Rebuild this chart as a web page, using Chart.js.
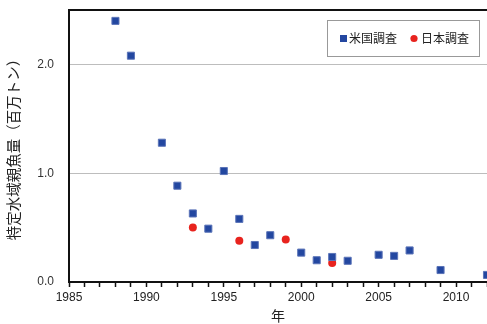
<!DOCTYPE html>
<html>
<head>
<meta charset="utf-8">
<script src="https://cdn.jsdelivr.net/npm/chart.js@4/dist/chart.umd.min.js"></script>
<style>
  html, body { margin: 0; padding: 0; background: #fff; overflow: hidden; }
  canvas { display: block; }
</style>
</head>
<body>
<canvas id="chart" width="487" height="324"></canvas>
<script>
// 米国調査 (US survey)
const usYears = [1988, 1989, 1991, 1992, 1993, 1994, 1995, 1996, 1997, 1998, 2000, 2001, 2002, 2003, 2005, 2006, 2007, 2009, 2012];
const usValues = [2.40, 2.08, 1.28, 0.885, 0.63, 0.49, 1.02, 0.58, 0.34, 0.43, 0.27, 0.20, 0.23, 0.195, 0.25, 0.24, 0.29, 0.11, 0.065];
// 日本調査 (Japan survey)
const jpYears = [1993, 1996, 1999, 2002];
const jpValues = [0.50, 0.38, 0.39, 0.175];
const yTicks = [0, 1, 2];

const jpFont = '"Noto Sans CJK JP", "Noto Sans", sans-serif';
const numFont = '"Liberation Sans", Arial, sans-serif';

// plot frame top line + legend box inside the plot area
const framePlugin = {
  id: 'frame',
  afterDraw(chart) {
    const ctx = chart.ctx;
    const a = chart.chartArea;
    ctx.save();
    ctx.strokeStyle = '#111';
    ctx.lineWidth = 2;
    ctx.beginPath();
    ctx.moveTo(a.left - 1, a.top);
    ctx.lineTo(a.right, a.top);
    ctx.stroke();

    // legend
    const bx = 327, by = 20, bw = 152, bh = 36;
    ctx.fillStyle = '#fff';
    ctx.fillRect(bx, by, bw, bh);
    ctx.strokeStyle = '#999';
    ctx.lineWidth = 1;
    ctx.strokeRect(bx + 0.5, by + 0.5, bw, bh);
    const cy = by + bh / 2 + 0.5;
    const ds = chart.data.datasets;
    ctx.fillStyle = ds[0].backgroundColor;
    ctx.fillRect(340, cy - 3.5, 7, 7);
    ctx.beginPath();
    ctx.fillStyle = ds[1].backgroundColor;
    ctx.arc(414, cy, 3.6, 0, Math.PI * 2);
    ctx.fill();
    ctx.fillStyle = '#222';
    ctx.font = '12px ' + jpFont;
    ctx.textBaseline = 'middle';
    ctx.fillText(ds[0].label, 349, cy);
    ctx.fillText(ds[1].label, 421, cy);
    ctx.restore();
  }
};

new Chart(document.getElementById('chart'), {
  type: 'scatter',
  data: {
    datasets: [{
      label: '米国調査',
      data: usYears.map((x, i) => ({ x: x, y: usValues[i] })),
      pointStyle: 'rect',
      pointRadius: 5,
      backgroundColor: '#2347A0',
      borderColor: '#5B74B8',
      borderWidth: 1
    }, {
      label: '日本調査',
      data: jpYears.map((x, i) => ({ x: x, y: jpValues[i] })),
      pointStyle: 'circle',
      pointRadius: 4,
      backgroundColor: '#E8231E',
      borderColor: '#E8231E',
      borderWidth: 0
    }]
  },
  options: {
    responsive: false,
    animation: false,
    devicePixelRatio: 1,
    layout: { autoPadding: false, padding: { top: 10, left: 0, right: 0, bottom: 0 } },
    plugins: {
      legend: { display: false },
      tooltip: { enabled: false }
    },
    scales: {
      x: {
        type: 'linear',
        min: 1985,
        max: 2012,
        afterFit: s => { s.height = 42; s.paddingLeft = 0; s.paddingRight = 0; },
        afterBuildTicks: s => {
          const t = [];
          for (let v = 1985; v <= 2012; v++) t.push({ value: v });
          s.ticks = t;
        },
        ticks: {
          autoSkip: false,
          maxRotation: 0,
          padding: 3,
          color: '#222',
          font: { family: numFont, size: 12 },
          callback: v => (v % 5 === 0 ? String(v) : '')
        },
        grid: {
          drawOnChartArea: false,
          drawTicks: true,
          tickLength: 5,
          tickColor: '#111',
          tickWidth: 1.5
        },
        border: { display: true, color: '#111', width: 2 },
        title: {
          display: true,
          text: '年',
          color: '#222',
          font: { family: jpFont, size: 14 },
          padding: { top: 0, bottom: 0 }
        }
      },
      y: {
        min: 0,
        max: 2.5,
        afterFit: s => { s.width = 69; s.paddingTop = 0; s.paddingBottom = 0; },
        afterBuildTicks: s => { s.ticks = yTicks.map(v => ({ value: v })); },
        ticks: {
          padding: 15,
          color: '#333',
          font: { family: numFont, size: 12 },
          callback: v => v.toFixed(1)
        },
        grid: {
          drawTicks: false,
          color: '#BDBDBD',
          lineWidth: 1
        },
        border: { display: true, color: '#111', width: 2 },
        title: {
          display: true,
          text: '特定水域親魚量（百万トン）',
          color: '#222',
          font: { family: jpFont, size: 14.5 },
          padding: { top: 5, bottom: 4 }
        }
      }
    }
  },
  plugins: [framePlugin]
});
</script>
</body>
</html>
